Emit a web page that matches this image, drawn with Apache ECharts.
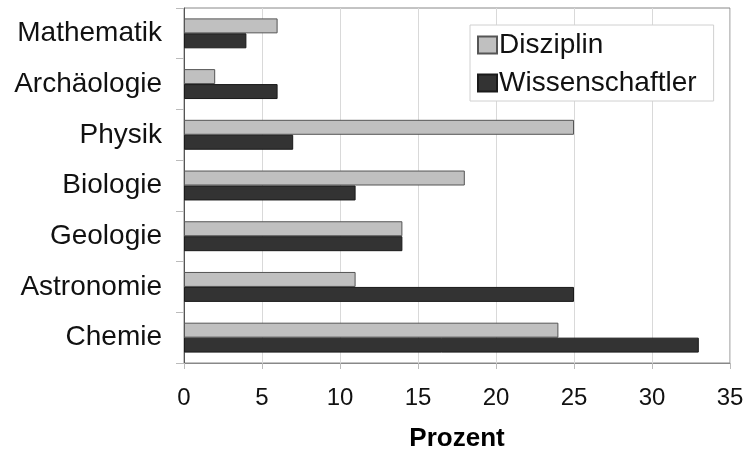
<!DOCTYPE html>
<html>
<head>
<meta charset="utf-8">
<script src="https://cdn.jsdelivr.net/npm/echarts@6/dist/echarts.min.js"></script>
<style>html,body{margin:0;padding:0;background:#fff}#c{width:747px;height:450px}</style>
</head>
<body>
<div id="c"></div>
<script>
const categories = ['Mathematik', 'Archäologie', 'Physik', 'Biologie', 'Geologie', 'Astronomie', 'Chemie'];
const disziplin = [6, 2, 25, 18, 14, 11, 24];
const wissenschaftler = [4, 6, 7, 11, 14, 25, 33];
const seriesNames = ['Disziplin', 'Wissenschaftler'];
const axisName = 'Prozent';

const FONT = '"Liberation Sans", Arial, sans-serif';
const chart = echarts.init(document.getElementById('c'));
chart.setOption({
  animation: false,
  textStyle: { fontFamily: FONT },
  grid: { left: 184, right: 17, top: 8, bottom: 87, containLabel: false, outerBoundsMode: 'none',
          show: true, borderColor: '#888', borderWidth: 1, backgroundColor: 'transparent' },
  legend: {
    orient: 'vertical', left: 470, top: 25,
    padding: [6, 17, 4, 7], itemGap: 10,
    itemWidth: 19, itemHeight: 17, icon: 'rect',
    backgroundColor: '#fff', borderColor: '#d0d0d0', borderWidth: 1,
    textStyle: { fontSize: 28, color: '#111', fontFamily: FONT, lineHeight: 27, padding: [0, 0, 0, -3] },
    data: seriesNames
  },
  xAxis: {
    type: 'value', min: 0, max: 35, interval: 5,
    name: axisName, nameLocation: 'middle', nameGap: 63,
    nameTextStyle: { fontSize: 26, fontWeight: 'bold', color: '#000', fontFamily: FONT },
    axisLine: { show: true, lineStyle: { color: '#888' } },
    axisTick: { show: true, length: 6, lineStyle: { color: '#bbb' } },
    axisLabel: { fontSize: 24, color: '#111', margin: 23, fontFamily: FONT },
    splitLine: { show: true, lineStyle: { color: '#d9d9d9', width: 1 } }
  },
  yAxis: {
    type: 'category', data: categories, inverse: true,
    axisLine: { show: true, lineStyle: { color: '#555' } },
    axisTick: { show: true, length: 8, lineStyle: { color: '#bbb' } },
    axisLabel: { fontSize: 28, color: '#111', margin: 22, fontFamily: FONT },
    splitLine: { show: false }
  },
  series: [
    { name: seriesNames[0], type: 'bar', data: disziplin, barGap: '0%', barCategoryGap: '41%',
      itemStyle: { color: '#c0c0c0', borderColor: '#555', borderWidth: 1 } },
    { name: seriesNames[1], type: 'bar', data: wissenschaftler, barGap: '0%', barCategoryGap: '41%',
      itemStyle: { color: '#333333', borderColor: '#1a1a1a', borderWidth: 1 } }
  ]
});
</script>
</body>
</html>
